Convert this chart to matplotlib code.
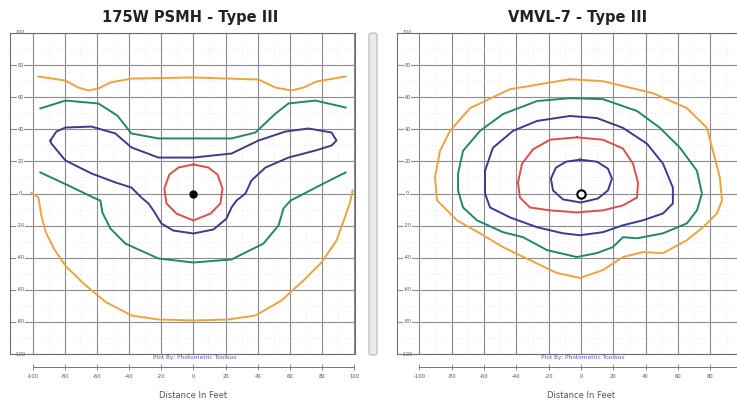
import matplotlib.pyplot as plt
from matplotlib.patches import FancyBboxPatch

# iso-footcandle contour traces, distance in feet
# --- 175W PSMH - Type III ---
psmh_orange_top_x = [-96.6, -79.7, -71.6, -65.4, -59.2, -51.7, -38.6, 0, 40.5, 51.1, 61.1, 68.5, 76.6, 94.7]
psmh_orange_top_y = [72.9, 70.4, 66.0, 64.2, 65.4, 69.2, 71.6, 72.3, 71.0, 66.0, 64.2, 66.0, 69.8, 72.9]
psmh_orange_low_x = [-101, -96.5, -94.7, -92.0, -86.5, -79.7, -68.5, -54.8, -38.6, -21.8, 0,
                     21.8, 38.6, 54.8, 68.5, 79.7, 89.1, 94.7, 97.8, 99.1]
psmh_orange_low_y = [0.5, -2.5, -13.7, -24.0, -35.0, -45.0, -56.0, -67.5, -76.0, -78.5, -79.1,
                     -78.5, -76.0, -66.7, -54.2, -43.0, -29.3, -13.7, -4.4, 1.9]
psmh_green_top_x = [-95.3, -79.7, -59.2, -47.4, -38.6, -21.8, 0, 23.7, 38.6, 51.1, 59.2, 76.0, 94.7]
psmh_green_top_y = [53.0, 57.9, 56.1, 48.6, 37.4, 34.3, 34.3, 34.3, 38.0, 49.8, 56.1, 57.9, 53.6]
psmh_green_low_x = [-95.3, -77.9, -62.3, -57.9, -56.7, -51.7, -42.4, -21.8, 0, 23.7, 43.6, 53.0,
                    56.1, 60.4, 65.4, 81.0, 94.7]
psmh_green_low_y = [13.1, 5.0, -2.5, -4.4, -11.8, -21.8, -31.2, -40.5, -43.0, -41.1, -31.2, -19.9,
                    -9.3, -4.4, -1.9, 6.2, 13.1]
psmh_blue_x = [-89.1, -85.3, -79.7, -63.5, -48.6, -38.6, -21.8, 0, 23.7, 40.5, 57.3, 71.6, 86.0,
               89.1, 86.0, 76.0, 59.2, 44.9, 36.1, 32.4, 26.8, 23.7, 20.6, 12.5, 0, -12.5, -19.9,
               -24.9, -28.0, -32.4, -38.6, -48.6, -63.5, -79.7, -88.5, -89.1]
psmh_blue_y = [33.0, 38.6, 41.1, 41.7, 37.4, 28.7, 22.4, 22.4, 24.9, 33.0, 38.6, 40.5, 38.0,
               33.0, 29.9, 26.8, 22.4, 16.2, 8.1, 0, -4.4, -8.7, -15.6, -22.4, -24.9, -23.1, -18.7,
               -10.6, -6.2, -2.5, 3.7, 6.9, 12.5, 20.6, 31.2, 33.0]
psmh_red_x = [0, 9.3, 15.0, 18.1, 16.8, 10.6, 0, -10.6, -16.8, -18.1, -15.0, -9.3, 0]
psmh_red_y = [18.1, 16.2, 11.8, 3.1, -6.2, -12.5, -16.8, -12.5, -6.2, 3.1, 11.8, 16.2, 18.1]

# --- VMVL-7 - Type III ---
vmvl_orange_x = [-6.8, 13.6, 44.6, 65.6, 78.0, 81.7, 86.0, 87.3, 84.2, 75.5, 65.6, 50.8, 38.4, 26.0,
                 13.6, -0.6, -14.9, -31.6, -48.3, -62.5, -76.8, -89.1, -90.4, -87.3, -81.1, -68.7,
                 -43.9, -6.8]
vmvl_orange_y = [71.2, 70.0, 62.5, 53.2, 40.9, 26.6, 9.9, -4.3, -12.4, -21.0, -29.1, -37.1, -36.5,
                 -39.6, -47.7, -52.6, -49.5, -41.5, -33.4, -24.8, -16.7, -4.3, 9.9, 26.6, 39.0, 53.2,
                 65.0, 71.2]
vmvl_green_x = [-6.8, 13.6, 34.7, 48.9, 61.3, 71.8, 74.9, 71.8, 65.6, 50.8, 34.7, 26.0, 19.8, 9.9,
                -2.5, -21.0, -35.9, -48.3, -64.4, -73.0, -76.1, -76.1, -73.0, -62.5, -48.3, -27.2, -6.8]
vmvl_green_y = [59.4, 58.8, 51.4, 40.9, 28.5, 14.2, 0, -10.5, -18.6, -24.8, -27.9, -27.2, -33.4,
                -37.1, -39.6, -35.3, -27.2, -24.1, -16.7, -8.7, 1.9, 12.4, 26.6, 39.0, 49.5, 57.6, 59.4]
vmvl_blue_x = [-6.8, 9.9, 26.0, 40.9, 50.8, 56.9, 56.9, 50.8, 38.4, 26.0, 13.6, -0.6, -11.1, -27.2,
               -43.9, -56.3, -59.4, -59.4, -54.5, -42.1, -27.2, -6.8]
vmvl_blue_y = [48.3, 47.0, 40.9, 31.0, 18.6, 3.7, -6.2, -12.4, -16.7, -19.8, -24.1, -26.0, -24.8,
               -21.0, -14.9, -8.7, 0, 14.2, 28.5, 39.0, 45.2, 48.3]
vmvl_red_x = [-2.5, 13.6, 26.0, 32.2, 35.3, 34.7, 26.0, 13.6, -2.5, -19.2, -31.6, -37.8, -39.0,
              -36.5, -29.7, -19.2, -2.5]
vmvl_red_y = [35.0, 33.5, 28.0, 18.6, 6.8, -2.5, -7.4, -10.5, -11.8, -10.5, -8.7, -2.5, 6.8, 18.6,
              27.5, 33.5, 35.0]
vmvl_inner_x = [-0.6, 9.9, 16.7, 19.2, 16.7, 10.5, 0, -11.1, -17.3, -18.6, -15.5, -9.3, -0.6]
vmvl_inner_y = [21.1, 19.8, 15.5, 9.3, 1.9, -3.1, -5.6, -3.7, 1.9, 9.3, 16.1, 19.8, 21.1]

ticks = list(range(-100, 101, 20))
tick_labels = [str(t) for t in ticks]

ORANGE = '#eba441'
GREEN = '#23876a'
NAVY = '#3b3d8c'
RED = '#d8504c'

W, H = 737, 404
fig = plt.figure(figsize=(W / 100, H / 100), dpi=100)


def make_panel(left_px, width_px, xlim, title):
    ax = fig.add_axes([left_px / W, 50 / H, width_px / W, 321 / H])
    ax.set_xlim(*xlim)
    ax.set_ylim(-100, 100)
    for t in ticks:
        ax.axvline(t, color='#8c8c8c', lw=0.8, zorder=1)
        ax.axhline(t, color='#8c8c8c', lw=0.8, zorder=1)
    for t in range(-90, 100, 20):
        ax.axvline(t, color='#d0d0d0', lw=0.5, ls=(0, (1, 4)), zorder=1)
        ax.axhline(t, color='#d0d0d0', lw=0.5, ls=(0, (1, 4)), zorder=1)
    ax.set_xticks([])
    ax.set_yticks([])
    for s in ax.spines.values():
        s.set_color('#6e6e6e')
        s.set_linewidth(0.8)
    xl = xlim[0] + 6.5
    for t, lab in zip(ticks, tick_labels):
        ax.text(xl, t, lab, fontsize=3.5, color='#555555', ha='center', va='center',
                bbox=dict(boxstyle='square,pad=0.1', fc='white', ec='none'), zorder=2)
    sec = ax.secondary_xaxis(-0.0405)
    sec.set_xticks(ticks)
    sec.set_xticklabels(tick_labels, fontsize=3.8, color='#555555')
    sec.spines['bottom'].set_bounds(-100, 100)
    sec.spines['bottom'].set_color('#777777')
    sec.spines['bottom'].set_linewidth(0.7)
    sec.tick_params(direction='inout', length=4, width=0.6, color='#777777', pad=3)
    ax.text(0, -0.128, 'Distance In Feet', transform=ax.get_xaxis_transform(),
            fontsize=6, color='#555555', ha='center', va='center')
    ax.text(1, -0.012, 'Plot By: Photometric Toolbox', transform=ax.get_xaxis_transform(),
            fontsize=4.2, color='#5a5ac8', ha='center', va='center')
    ax.text(-2, 1.047, title, transform=ax.get_xaxis_transform(), fontsize=10.5,
            fontweight='bold', color='#222222', ha='center', va='center')
    return ax


ax1 = make_panel(10, 345, (-114.2, 100.6), '175W PSMH - Type III')
lw = 1.4
ax1.plot(psmh_orange_top_x, psmh_orange_top_y, color=ORANGE, lw=lw, zorder=3)
ax1.plot(psmh_orange_low_x, psmh_orange_low_y, color=ORANGE, lw=lw, zorder=3)
ax1.plot(psmh_green_top_x, psmh_green_top_y, color=GREEN, lw=lw, zorder=3)
ax1.plot(psmh_green_low_x, psmh_green_low_y, color=GREEN, lw=lw, zorder=3)
ax1.plot(psmh_blue_x, psmh_blue_y, color=NAVY, lw=lw, zorder=3)
ax1.plot(psmh_red_x, psmh_red_y, color=RED, lw=lw, zorder=3)
ax1.plot([0], [0], 'o', color='black', ms=5, zorder=4)

ax2 = make_panel(397, 350, (-113.9, 102.8), 'VMVL-7 - Type III')
ax2.plot(vmvl_orange_x, vmvl_orange_y, color=ORANGE, lw=lw, zorder=3)
ax2.plot(vmvl_green_x, vmvl_green_y, color=GREEN, lw=lw, zorder=3)
ax2.plot(vmvl_blue_x, vmvl_blue_y, color=NAVY, lw=lw, zorder=3)
ax2.plot(vmvl_red_x, vmvl_red_y, color=RED, lw=lw, zorder=3)
ax2.plot(vmvl_inner_x, vmvl_inner_y, color=NAVY, lw=lw, zorder=3)
ax2.plot([0], [0], 'o', mfc='white', mec='black', mew=1.5, ms=6, zorder=4)

# separator bar between the two panels
bar = FancyBboxPatch((369 / W, 49 / H), 8 / W, 322 / H, boxstyle='round,pad=0,rounding_size=0.005',
                     transform=fig.transFigure, fc='#ececec', ec='#b5b5b5', lw=0.8)
fig.patches.append(bar)

fig.savefig('out.png', dpi=100)
